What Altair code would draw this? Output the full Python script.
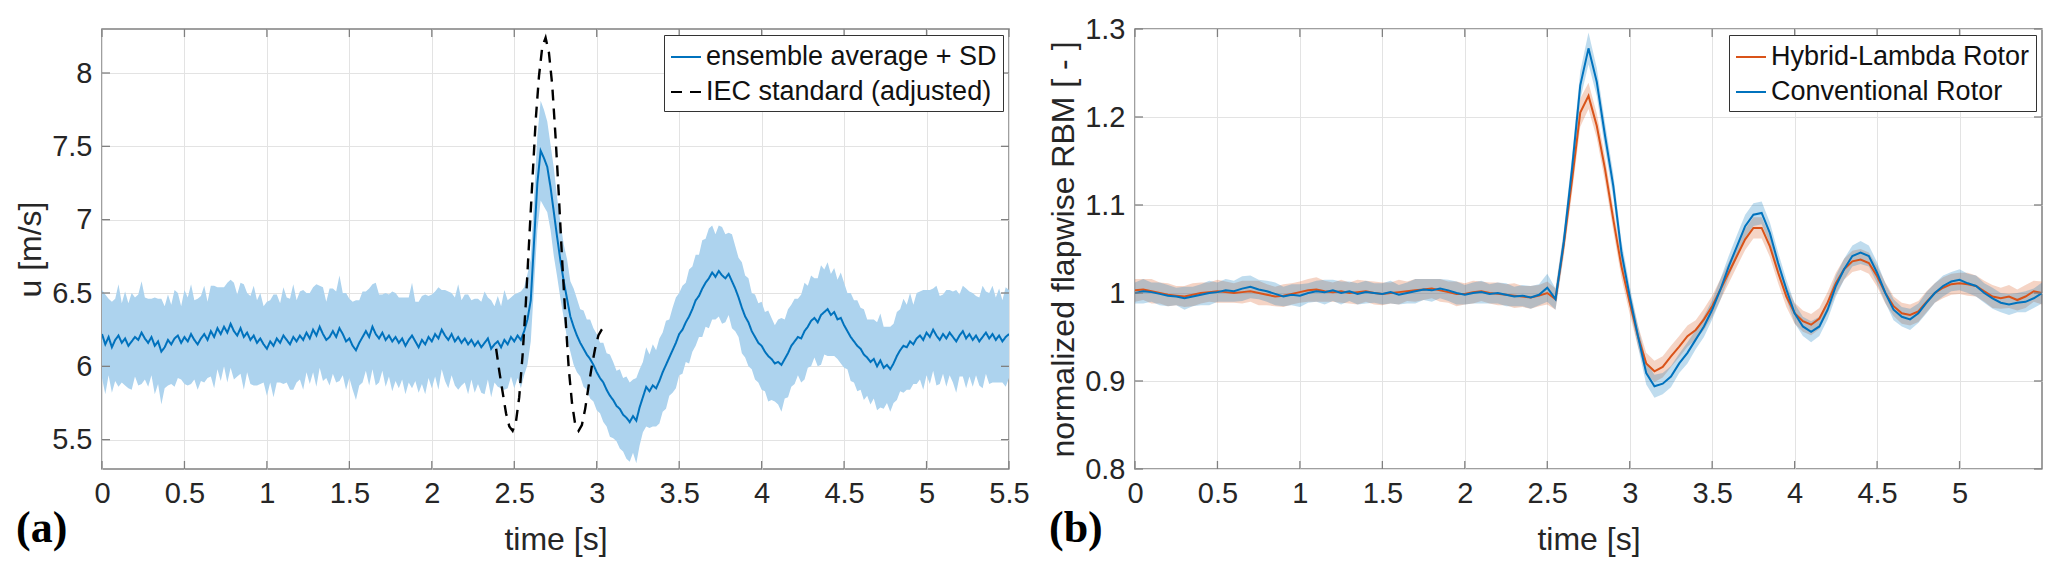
import altair as alt
import pandas as pd

# ---------------- Panel (a) data ----------------
# time grid, 0.02 s steps from 0 to 5.5 s
t_a = [round(i * 0.02, 2) for i in range(276)]

mean_a = [
    6.22, 6.15, 6.20, 6.13, 6.18, 6.21, 6.16, 6.19, 6.14, 6.17,
    6.20, 6.18, 6.23, 6.19, 6.16, 6.20, 6.14, 6.17, 6.10, 6.13,
    6.18, 6.15, 6.19, 6.21, 6.16, 6.20, 6.17, 6.22, 6.18, 6.15,
    6.19, 6.22, 6.18, 6.24, 6.20, 6.26, 6.22, 6.27, 6.23, 6.29,
    6.24, 6.21, 6.26, 6.20, 6.23, 6.18, 6.21, 6.16, 6.19, 6.15,
    6.12, 6.17, 6.14, 6.19, 6.16, 6.21, 6.18, 6.15, 6.20, 6.17,
    6.21, 6.18, 6.23, 6.19, 6.25, 6.21, 6.27, 6.22, 6.18, 6.20,
    6.24, 6.20, 6.26, 6.22, 6.17, 6.19, 6.14, 6.11, 6.16, 6.20,
    6.24, 6.20, 6.27, 6.22, 6.19, 6.23, 6.18, 6.21, 6.17, 6.20,
    6.16, 6.19, 6.14, 6.18, 6.21, 6.17, 6.13, 6.18, 6.15, 6.20,
    6.17, 6.22, 6.19, 6.25, 6.21, 6.18, 6.22, 6.17, 6.20, 6.16,
    6.19, 6.15, 6.18, 6.14, 6.17, 6.13, 6.16, 6.19, 6.12, 6.15,
    6.17, 6.13, 6.18, 6.15, 6.20, 6.17, 6.21, 6.18, 6.24, 6.32,
    6.45, 6.85, 7.25, 7.47, 7.42, 7.36, 7.22, 7.05, 6.88, 6.72,
    6.58, 6.46, 6.34, 6.27, 6.21, 6.16, 6.12, 6.08, 6.05, 6.01,
    5.96, 5.92, 5.89, 5.84, 5.80, 5.77, 5.73, 5.71, 5.67, 5.65,
    5.62, 5.66, 5.63, 5.72, 5.79, 5.86, 5.83, 5.87, 5.85, 5.90,
    5.96, 6.01, 6.06, 6.11, 6.16, 6.22, 6.25, 6.30, 6.34, 6.39,
    6.45, 6.48, 6.53, 6.57, 6.60, 6.64, 6.61, 6.65, 6.62, 6.60,
    6.63, 6.58, 6.53, 6.47, 6.40, 6.34, 6.30, 6.24, 6.20, 6.16,
    6.14, 6.10, 6.07, 6.05, 6.02, 6.03, 6.01, 6.05, 6.09, 6.14,
    6.17, 6.20, 6.19, 6.24, 6.27, 6.31, 6.33, 6.30, 6.35, 6.37,
    6.39, 6.35, 6.37, 6.32, 6.33, 6.28, 6.24, 6.20, 6.17, 6.14,
    6.12, 6.08, 6.06, 6.03, 6.05, 6.00, 6.04, 5.99, 6.01, 5.98,
    6.02, 6.07, 6.11, 6.14, 6.13, 6.17, 6.15, 6.19, 6.21, 6.18,
    6.23, 6.20, 6.25, 6.21, 6.18, 6.22, 6.19, 6.23, 6.20, 6.17,
    6.21, 6.24, 6.19, 6.22, 6.18, 6.21, 6.17, 6.20, 6.23, 6.19,
    6.22, 6.18, 6.21, 6.17, 6.20, 6.22,
]

sd_a = [
    .30, .34, .26, .31, .28, .35, .27, .32, .29, .33,
    .27, .31, .35, .28, .30, .26, .33, .29, .36, .28,
    .31, .27, .33, .29, .25, .32, .30, .34, .27, .31,
    .29, .33, .26, .31, .35, .28, .32, .27, .34, .30,
    .33, .28, .31, .36, .27, .30, .34, .29, .31, .26,
    .32, .28, .35, .30, .27, .33, .29, .31, .36, .28,
    .30, .34, .27, .31, .29, .35, .28, .32, .26, .33,
    .29, .31, .36, .28, .33, .27, .30, .34, .29, .31,
    .27, .33, .29, .35, .30, .26, .32, .28, .34, .30,
    .31, .28, .33, .29, .36, .27, .31, .30, .34, .28,
    .32, .29, .35, .27, .31, .33, .28, .30, .36, .29,
    .30, .34, .27, .32, .29, .31, .35, .28, .33, .26,
    .31, .28, .34, .30, .27, .32, .29, .33, .30, .31,
    .28, .30, .32, .34, .33, .31, .29, .30, .27, .26,
    .25, .27, .24, .26, .25, .23, .26, .24, .27, .25,
    .26, .24, .27, .25, .28, .26, .24, .27, .25, .28,
    .27, .25, .29, .26, .24, .27, .25, .28, .26, .29,
    .27, .30, .26, .29, .31, .28, .30, .27, .32, .29,
    .31, .28, .33, .30, .34, .32, .29, .31, .33, .30,
    .28, .32, .29, .27, .31, .28, .30, .26, .29, .27,
    .30, .27, .31, .28, .26, .29, .32, .27, .30, .28,
    .29, .26, .30, .33, .28, .31, .27, .30, .34, .29,
    .32, .28, .30, .27, .31, .29, .26, .30, .28, .31,
    .28, .31, .26, .29, .27, .30, .32, .28, .26, .29,
    .27, .30, .28, .32, .29, .33, .27, .31, .30, .34,
    .29, .32, .28, .34, .30, .27, .33, .29, .31, .35,
    .28, .31, .34, .29, .32, .27, .30, .35, .28, .31,
    .33, .29, .32, .28, .34, .30,
]

iec_t = [2.39, 2.41, 2.43, 2.45, 2.47, 2.49, 2.51, 2.53, 2.55, 2.57,
         2.59, 2.61, 2.63, 2.65, 2.67, 2.69, 2.71, 2.73, 2.75, 2.77,
         2.79, 2.81, 2.83, 2.85, 2.87, 2.89, 2.91, 2.93, 2.95, 2.97,
         2.99, 3.01, 3.03, 3.05]
iec_u = [6.12, 5.96, 5.82, 5.68, 5.59, 5.56, 5.62, 5.79, 6.07, 6.43,
         6.85, 7.27, 7.68, 7.98, 8.18, 8.24, 8.14, 7.92, 7.57, 7.17,
         6.73, 6.34, 5.99, 5.75, 5.60, 5.56, 5.60, 5.71, 5.86, 6.00,
         6.12, 6.21, 6.25, 6.28]

# ---------------- Panel (b) data ----------------
t_b = [round(i * 0.05, 2) for i in range(111)]

conv = [
    1.000, 1.002, 1.001, 0.999, 0.997, 0.996, 0.994, 0.996, 0.998, 1.000,
    1.001, 1.003, 1.002, 1.005, 1.007, 1.004, 1.002, 0.999, 0.996, 0.998,
    0.997, 1.000, 1.002, 1.001, 1.003, 1.000, 1.002, 0.999, 1.001, 1.000,
    0.999, 1.001, 0.998, 1.000, 1.002, 1.004, 1.003, 1.005, 1.003, 1.000,
    0.998, 1.000, 1.001, 0.999, 1.000, 0.998, 0.996, 0.997, 0.995, 0.998,
    1.006, 0.993, 1.058, 1.141, 1.236, 1.278, 1.240, 1.179, 1.122, 1.046,
    0.996, 0.951, 0.909, 0.894, 0.897, 0.905, 0.920, 0.932, 0.947, 0.962,
    0.981, 1.004, 1.030, 1.053, 1.076, 1.089, 1.091, 1.068, 1.034, 1.004,
    0.977, 0.962, 0.956, 0.962, 0.981, 1.008, 1.027, 1.042, 1.046, 1.042,
    1.023, 1.000, 0.981, 0.973, 0.970, 0.977, 0.989, 1.000, 1.008, 1.013,
    1.015, 1.011, 1.008, 1.000, 0.994, 0.989, 0.987, 0.989, 0.990, 0.994,
    1.000,
]
hyb = [
    1.003, 1.004, 1.002, 1.000, 0.998, 0.997, 0.996, 0.998, 1.000, 1.001,
    1.002, 1.001, 1.000, 1.001, 1.002, 1.000, 0.998, 0.996, 0.997, 0.999,
    1.001, 1.003, 1.004, 1.002, 1.001, 1.002, 1.000, 1.001, 1.002, 1.000,
    0.999, 1.000, 1.001, 1.002, 1.003, 1.004, 1.005, 1.003, 1.001, 0.999,
    0.999, 1.001, 1.002, 1.000, 0.999, 0.998, 0.997, 0.996, 0.995, 0.997,
    1.000, 0.993, 1.055, 1.128, 1.205, 1.224, 1.190, 1.141, 1.084, 1.030,
    0.989, 0.951, 0.920, 0.911, 0.916, 0.928, 0.939, 0.951, 0.958, 0.970,
    0.985, 1.004, 1.023, 1.042, 1.061, 1.074, 1.074, 1.053, 1.023, 0.996,
    0.977, 0.968, 0.964, 0.971, 0.989, 1.011, 1.027, 1.036, 1.038, 1.034,
    1.019, 1.000, 0.985, 0.977, 0.975, 0.979, 0.990, 1.000, 1.006, 1.010,
    1.011, 1.010, 1.008, 1.002, 0.996, 0.994, 0.996, 0.992, 0.996, 1.002,
    1.000,
]
sd_conv = [
    .012, .014, .011, .013, .012, .010, .013, .011, .012, .014,
    .011, .013, .012, .014, .013, .011, .012, .013, .011, .012,
    .013, .011, .012, .014, .012, .013, .011, .012, .013, .011,
    .012, .013, .011, .012, .014, .012, .013, .011, .012, .013,
    .011, .012, .013, .011, .012, .013, .011, .012, .013, .012,
    .016, .012, .013, .014, .016, .018, .016, .015, .014, .013,
    .012, .012, .013, .013, .012, .012, .011, .012, .011, .012,
    .011, .012, .012, .013, .013, .013, .013, .012, .012, .011,
    .011, .011, .012, .011, .011, .012, .012, .012, .013, .012,
    .012, .011, .012, .011, .012, .011, .012, .011, .012, .011,
    .012, .011, .012, .011, .012, .011, .012, .011, .012, .011,
    .012,
]
sd_hyb = [
    .013, .012, .014, .012, .013, .011, .012, .013, .012, .011,
    .013, .012, .011, .013, .012, .014, .012, .011, .013, .012,
    .012, .013, .014, .012, .011, .013, .012, .014, .012, .013,
    .013, .012, .014, .011, .013, .012, .011, .013, .012, .014,
    .012, .013, .011, .012, .013, .012, .014, .012, .013, .012,
    .013, .012, .013, .015, .016, .015, .014, .014, .013, .013,
    .013, .012, .012, .012, .012, .012, .012, .012, .011, .012,
    .012, .012, .012, .012, .012, .012, .012, .012, .012, .012,
    .012, .012, .012, .012, .012, .012, .012, .012, .012, .012,
    .012, .012, .011, .012, .012, .012, .012, .011, .012, .012,
    .012, .013, .012, .012, .013, .012, .013, .012, .013, .012,
    .013,
]

ticks_a_x = [0, 0.5, 1, 1.5, 2, 2.5, 3, 3.5, 4, 4.5, 5, 5.5]
ticks_a_y = [5.5, 6, 6.5, 7, 7.5, 8]
ticks_b_x = [0, 0.5, 1, 1.5, 2, 2.5, 3, 3.5, 4, 4.5, 5]
ticks_b_y = [0.8, 0.9, 1.0, 1.1, 1.2, 1.3]

ENS = "ensemble average + SD"
IEC = "IEC standard (adjusted)"
HYB = "Hybrid-Lambda Rotor"
CONV = "Conventional Rotor"

BLUE = "#0072BD"
ORANGE = "#D95319"
FONT = "Liberation Sans"
W, H = 907, 440
TICK = 8
BOX = "#808080"

# ---------------- helpers ----------------
def x_enc(values):
    return alt.X("t:Q", scale=alt.Scale(domain=[0, 5.5], nice=False, zero=False),
                 axis=alt.Axis(values=values, title="time [s]", format="~g",
                               grid=True, gridColor="#E3E3E3", gridWidth=1,
                               ticks=False, domain=False, labelFlush=False,
                               labelOverlap=False, labelPadding=10,
                               labelFontSize=29, titleFontSize=32,
                               titlePadding=16, titleFontWeight="normal"))


def y_enc(field, domain, values, title):
    return alt.Y(f"{field}:Q", scale=alt.Scale(domain=domain, nice=False, zero=False),
                 axis=alt.Axis(values=values, title=title, format="~g",
                               grid=True, gridColor="#E3E3E3", gridWidth=1,
                               ticks=False, domain=False, labelFlush=False,
                               labelOverlap=False, labelPadding=10,
                               labelFontSize=29, titleFontSize=32,
                               titlePadding=4, titleFontWeight="normal"))


def tick_layers(xvals, yvals, xe, ydomain, yvalues, ytitle):
    dx = pd.DataFrame({"t": xvals})
    dy = pd.DataFrame({"u": yvals})
    r = dict(color=BOX, strokeWidth=1.3)
    bottom = alt.Chart(dx).mark_rule(**r).encode(x=xe, y=alt.value(H), y2=alt.value(H - TICK))
    top = alt.Chart(dx).mark_rule(**r).encode(x=xe, y=alt.value(0), y2=alt.value(TICK))
    ye = y_enc("u", ydomain, yvalues, ytitle)
    left = alt.Chart(dy).mark_rule(**r).encode(y=ye, x=alt.value(0), x2=alt.value(TICK))
    right = alt.Chart(dy).mark_rule(**r).encode(y=ye, x=alt.value(W), x2=alt.value(W - TICK))
    return [bottom, top, left, right]


def legend_obj():
    return alt.Legend(title=None, orient="top-right", offset=6,
                      symbolType="stroke", symbolSize=900, symbolStrokeWidth=2,
                      labelFontSize=27, labelFont=FONT, labelColor="#111111",
                      labelLimit=500, labelOffset=4, rowPadding=6, padding=6,
                      strokeColor="#333333", fillColor="white", cornerRadius=0)


def panel_label(txt):
    return alt.Chart(pd.DataFrame({"lab": [txt]})).mark_text(
        font="Liberation Serif", fontWeight="bold", fontSize=44,
        align="left", baseline="middle", color="#000000"
    ).encode(x=alt.value(-86), y=alt.value(H + 60), text="lab:N")


# ---------------- Panel (a) ----------------
dom_a = [5.3, 8.3]
ytitle_a = "u [m/s]"
df_a = pd.DataFrame({"t": t_a, "u": mean_a, "sd": sd_a})
df_a["lo"] = df_a["u"] - df_a["sd"]
df_a["hi"] = df_a["u"] + df_a["sd"]
df_a["s"] = ENS
df_iec = pd.DataFrame({"t": iec_t, "u": iec_u, "s": IEC})

xa = x_enc(ticks_a_x)
color_a = alt.Color("s:N", scale=alt.Scale(domain=[ENS, IEC], range=[BLUE, "#000000"]),
                    legend=legend_obj())
dash_a = alt.StrokeDash("s:N", scale=alt.Scale(domain=[ENS, IEC], range=[[1, 0], [11, 8]]),
                        legend=legend_obj())

band_a = alt.Chart(df_a).mark_area(color="#ADD3EE", opacity=1, clip=True).encode(
    x=xa, y=y_enc("lo", dom_a, ticks_a_y, ytitle_a), y2="hi:Q")
line_a = alt.Chart(df_a).mark_line(strokeWidth=2, clip=True).encode(
    x=xa, y=y_enc("u", dom_a, ticks_a_y, ytitle_a), color=color_a, strokeDash=dash_a)
iec_line = alt.Chart(df_iec).mark_line(strokeWidth=2.4, clip=True).encode(
    x=xa, y=y_enc("u", dom_a, ticks_a_y, ytitle_a), color=color_a, strokeDash=dash_a)

panel_a = alt.layer(
    band_a, line_a, iec_line,
    *tick_layers(ticks_a_x, ticks_a_y, xa, dom_a, ticks_a_y, ytitle_a),
    panel_label("(a)")
).properties(width=W, height=H)

# ---------------- Panel (b) ----------------
dom_b = [0.8, 1.3]
ytitle_b = "normalized flapwise RBM [ - ]"
df_h = pd.DataFrame({"t": t_b, "u": hyb, "sd": sd_hyb, "s": HYB})
df_c = pd.DataFrame({"t": t_b, "u": conv, "sd": sd_conv, "s": CONV})
for d in (df_h, df_c):
    d["lo"] = d["u"] - d["sd"]
    d["hi"] = d["u"] + d["sd"]

xb = x_enc(ticks_b_x)
color_b = alt.Color("s:N", scale=alt.Scale(domain=[HYB, CONV], range=[ORANGE, BLUE]),
                    legend=legend_obj())

band_h = alt.Chart(df_h).mark_area(color=ORANGE, opacity=0.25, clip=True).encode(
    x=xb, y=y_enc("lo", dom_b, ticks_b_y, ytitle_b), y2="hi:Q")
band_c = alt.Chart(df_c).mark_area(color=BLUE, opacity=0.25, clip=True).encode(
    x=xb, y=y_enc("lo", dom_b, ticks_b_y, ytitle_b), y2="hi:Q")
line_h = alt.Chart(df_h).mark_line(strokeWidth=2, clip=True).encode(
    x=xb, y=y_enc("u", dom_b, ticks_b_y, ytitle_b), color=color_b)
line_c = alt.Chart(df_c).mark_line(strokeWidth=2, clip=True).encode(
    x=xb, y=y_enc("u", dom_b, ticks_b_y, ytitle_b), color=color_b)

panel_b = alt.layer(
    band_h, band_c, line_h, line_c,
    *tick_layers(ticks_b_x, ticks_b_y, xb, dom_b, ticks_b_y, ytitle_b),
    panel_label("(b)")
).properties(width=W, height=H)

chart = alt.hconcat(panel_a, panel_b, spacing=126, bounds="flush").resolve_scale(
    color="independent", strokeDash="independent"
).resolve_legend(
    color="independent", strokeDash="independent"
).properties(
    padding={"left": 5, "top": 6, "right": 5, "bottom": 5}
).configure_axis(
    labelFont=FONT, titleFont=FONT, labelColor="#262626", titleColor="#262626"
).configure_view(
    stroke=BOX, strokeWidth=1.5
).configure_legend(
    labelFont=FONT
)

chart.save("out.html", embed_options={"renderer": "svg", "actions": False})
